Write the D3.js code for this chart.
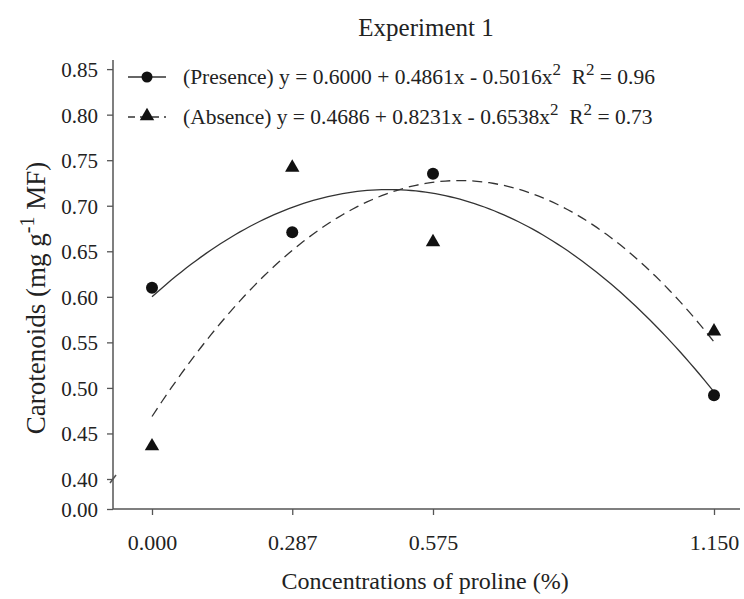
<!DOCTYPE html>
<html>
<head>
<meta charset="utf-8">
<script src="https://cdn.jsdelivr.net/npm/d3@7"></script>
<style>
  body { margin: 0; background: #fff; }
  text { font-family: "Liberation Serif", "Times New Roman", serif; fill: #222; }
</style>
</head>
<body>
<script>
// proline concentrations (x) and carotenoid readings
var concentrations = [0, 0.287, 0.575, 1.15];
var xTickLabels = ["0.000", "0.287", "0.575", "1.150"];
var presence = [0.610, 0.671, 0.735, 0.492];
var absence = [0.436, 0.742, 0.660, 0.562];
// fitted quadratic coefficients a + bx + cx^2
var presenceFit = [0.6000, 0.4861, -0.5016];
var absenceFit = [0.4686, 0.8231, -0.6538];
var yTickValues = [0, 0.40, 0.45, 0.50, 0.55, 0.60, 0.65, 0.70, 0.75, 0.80, 0.85];

var width = 744, height = 599;

var svg = d3.select("body").append("svg")
  .attr("width", width)
  .attr("height", height);

var x = d3.scaleLinear().domain([0, 1.15]).range([152, 714]);
// broken axis: 0.00 then jump to 0.40
var y = d3.scaleLinear().domain([0, 0.40, 0.86]).range([509, 479, 60]);

var axisColor = "#555";

// y axis
var yAxis = svg.append("g")
  .attr("transform", "translate(113,0)")
  .call(d3.axisLeft(y).tickValues(yTickValues).tickSize(6).tickFormat(d3.format(".2f")));
yAxis.select(".domain").remove();
yAxis.selectAll("line").attr("stroke", axisColor).attr("stroke-width", 1.3);
yAxis.selectAll("text").attr("x", -15).attr("dy", "0.35em")
  .style("font-size", "21px").style("font-family", "Liberation Serif").attr("fill", "#222");
svg.append("line")
  .attr("x1", 113).attr("x2", 113).attr("y1", y(0.86)).attr("y2", y(0))
  .attr("stroke", axisColor).attr("stroke-width", 1.5);
// break mark
svg.append("line")
  .attr("x1", 110).attr("y1", y(0.40) + 4).attr("x2", 116).attr("y2", y(0.40) - 4)
  .attr("stroke", axisColor).attr("stroke-width", 1.5);

// x axis
var xAxis = svg.append("g")
  .attr("transform", "translate(0," + y(0) + ")")
  .call(d3.axisBottom(x).tickValues(concentrations).tickSize(6)
    .tickFormat(function(d, i) { return xTickLabels[i]; }));
xAxis.select(".domain").remove();
xAxis.selectAll("line").attr("stroke", axisColor).attr("stroke-width", 1.3);
xAxis.selectAll("text").attr("y", 25).attr("dy", "0.71em")
  .style("font-size", "22px").style("font-family", "Liberation Serif").attr("fill", "#222");
svg.append("line")
  .attr("x1", 113).attr("x2", 740).attr("y1", y(0)).attr("y2", y(0))
  .attr("stroke", axisColor).attr("stroke-width", 1.5);

// fitted curves
var xs = d3.range(0, 1.1501, 0.01);
function fit(c) {
  return xs.map(function(v) { return [v, c[0] + c[1] * v + c[2] * v * v]; });
}
var line = d3.line()
  .x(function(d) { return x(d[0]); })
  .y(function(d) { return y(d[1]); });

svg.append("path").datum(fit(presenceFit))
  .attr("d", line).attr("fill", "none")
  .attr("stroke", "#333").attr("stroke-width", 1.3);
svg.append("path").datum(fit(absenceFit))
  .attr("d", line).attr("fill", "none")
  .attr("stroke", "#333").attr("stroke-width", 1.3)
  .attr("stroke-dasharray", "10,6");

// points
svg.selectAll(".pres").data(presence).enter().append("circle")
  .attr("class", "pres")
  .attr("cx", function(d, i) { return x(concentrations[i]); })
  .attr("cy", function(d) { return y(d); })
  .attr("r", 6).attr("fill", "#111");

var tri = d3.symbol().type(d3.symbolTriangle).size(90);
svg.selectAll(".abs").data(absence).enter().append("path")
  .attr("class", "abs")
  .attr("d", tri)
  .attr("transform", function(d, i) { return "translate(" + x(concentrations[i]) + "," + y(d) + ")"; })
  .attr("fill", "#111");

// legend
var legend = [
  { y: 77, dash: null, label: "(Presence) y = 0.6000 + 0.4861x - 0.5016x", r2: "0.96", shape: "circle" },
  { y: 117, dash: "7,5", label: "(Absence) y = 0.4686 + 0.8231x - 0.6538x", r2: "0.73", shape: "tri" }
];
legend.forEach(function(l) {
  svg.append("line")
    .attr("x1", 128).attr("x2", 166).attr("y1", l.y).attr("y2", l.y)
    .attr("stroke", "#333").attr("stroke-width", 1.3)
    .attr("stroke-dasharray", l.dash);
  if (l.shape == "circle") {
    svg.append("circle").attr("cx", 147).attr("cy", l.y).attr("r", 5.5).attr("fill", "#111");
  } else {
    svg.append("path").attr("d", tri)
      .attr("transform", "translate(147," + (l.y - 1) + ")").attr("fill", "#111");
  }
  var t = svg.append("text").attr("x", 183).attr("y", l.y + 7)
    .style("font-size", "21.5px").style("white-space", "pre");
  t.append("tspan").text(l.label);
  t.append("tspan").attr("dy", -9).style("font-size", "17px").text("2");
  t.append("tspan").attr("dy", 9).text("  R");
  t.append("tspan").attr("dy", -9).style("font-size", "17px").text("2");
  t.append("tspan").attr("dy", 9).text(" = " + l.r2);
});

// title
svg.append("text")
  .attr("x", 426).attr("y", 36)
  .attr("text-anchor", "middle")
  .style("font-size", "25px")
  .text("Experiment 1");

// x label
svg.append("text")
  .attr("x", 425).attr("y", 589)
  .attr("text-anchor", "middle")
  .style("font-size", "24px")
  .text("Concentrations of proline (%)");

// y label
var yl = svg.append("text")
  .attr("transform", "translate(45,298) rotate(-90)")
  .attr("text-anchor", "middle")
  .style("font-size", "27px");
yl.append("tspan").text("Carotenoids (mg g");
yl.append("tspan").attr("dy", -11).style("font-size", "20px").text("-1");
yl.append("tspan").attr("dy", 11).text(" MF)");
</script>
</body>
</html>
